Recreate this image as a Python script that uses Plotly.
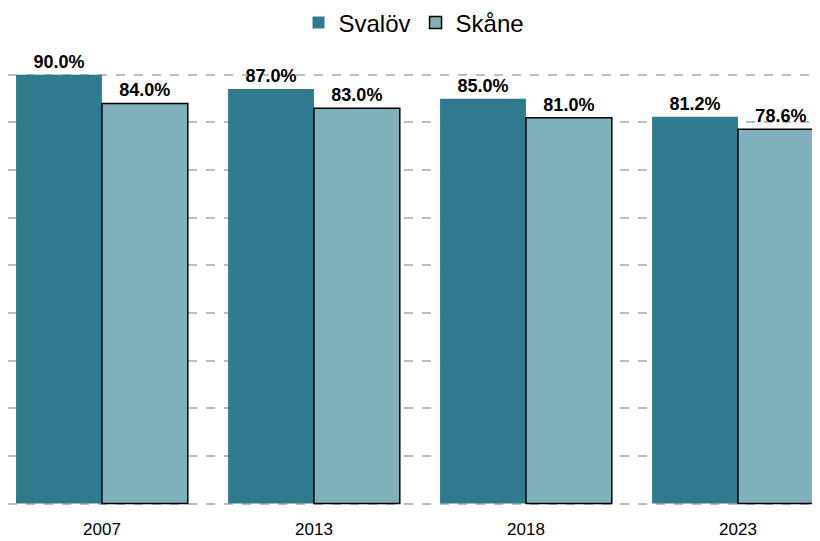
import plotly.graph_objects as go

years = ["2007", "2013", "2018", "2023"]
svalov = [90.0, 87.0, 85.0, 81.2]
skane = [84.0, 83.0, 81.0, 78.6]

SVALOV_COLOR = "#2f7a8c"
SKANE_COLOR = "#7fb1bb"
LABEL_FONT = dict(family="Liberation Sans", size=18, color="black", weight="bold")

fig = go.Figure()

fig.add_trace(go.Bar(
    name="Svalöv",
    x=years,
    y=svalov,
    marker=dict(color=SVALOV_COLOR, line=dict(color=SVALOV_COLOR, width=0)),
    text=[f"{v:.1f}%" for v in svalov],
    textposition="outside",
    textfont=LABEL_FONT,
    cliponaxis=False,
))

fig.add_trace(go.Bar(
    name="Skåne",
    x=years,
    y=skane,
    marker=dict(color=SKANE_COLOR, line=dict(color="black", width=1.5)),
    text=[f"{v:.1f}%" for v in skane],
    textposition="outside",
    textfont=LABEL_FONT,
    cliponaxis=False,
))

# page body adds an 8px offset, so the figure is a bit smaller than the window
fig.update_layout(
    width=812,
    height=533,
    barmode="group",
    bargap=0.19,
    bargroupgap=0,
    margin=dict(l=0, r=0, t=43, b=36, autoexpand=False),
    paper_bgcolor="white",
    plot_bgcolor="white",
    font=dict(family="Liberation Sans", color="black"),
    legend=dict(
        orientation="h", x=0.5, xanchor="center",
        yref="container", y=0.972, yanchor="middle",
        font=dict(size=24),
    ),
    uniformtext=dict(mode=False),
    xaxis=dict(
        type="category",
        range=[-0.443, 3.387],
        showgrid=False,
        showline=False,
        ticks="",
        ticklabelstandoff=12,
        automargin=False,
        tickfont=dict(size=17, color="black"),
    ),
    yaxis=dict(
        range=[-0.3, 95],
        dtick=10,
        showgrid=True,
        gridcolor="#bdbdbd",
        gridwidth=1.5,
        griddash="dash",
        zeroline=False,
        showticklabels=False,
        showline=False,
        automargin=False,
    ),
)

fig.write_html("out.html")
